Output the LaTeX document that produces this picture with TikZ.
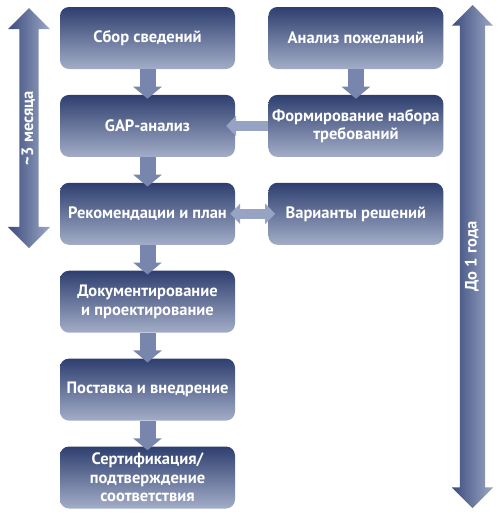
\documentclass[tikz,border=0pt]{standalone}
\usepackage{fontspec}
\setmainfont{PT Sans}
\usepackage{xcolor}
\usepackage{tikz}
\usetikzlibrary{arrows.meta,positioning,shapes.arrows}
\definecolor{boxtop}{HTML}{2E3F6F}
\definecolor{boxbot}{HTML}{A3ADC8}
\definecolor{arrmid}{HTML}{7886AD}
\definecolor{arrlight}{HTML}{97A3C2}
\definecolor{spandark}{HTML}{3B4C7E}
\definecolor{spanlight}{HTML}{9CA8C4}
\tikzstyle{stage}=[rectangle, rounded corners=9pt, top color=boxtop, bottom color=boxbot,
  minimum width=175pt, minimum height=62pt, align=center, inner sep=1pt,
  text=white, font=\bfseries\fontsize{16.5}{18.5}\selectfont]
\tikzstyle{span}=[double arrow, rotate=90, left color=spandark, right color=spanlight,
  text=white, font=\bfseries\fontsize{16.5}{18}\selectfont, text height=11.5pt, text depth=3.5pt]
\tikzstyle{fat}=[arrmid, line width=16pt, -{Triangle[width=28pt,length=12pt]}, shorten >=-4pt]
\tikzstyle{side}=[arrlight, line width=10pt, -{Triangle[width=20pt,length=10pt]}]

\begin{document}
\begin{tikzpicture}[node distance=25.5pt and 33pt]
\useasboundingbox (0,0) rectangle (500pt,-520pt);
\node (sbor) [stage] at (147.5pt,-38pt) {Сбор сведений};
\node (gap) [stage, below=of sbor] {GAP-анализ};
\node (plan) [stage, below=of gap] {Рекомендации и план};
\node (doc) [stage, below=of plan] {Документирование\\и проектирование};
\node (impl) [stage, below=of doc] {Поставка и внедрение};
\node (cert) [stage, below=of impl] {Сертификация/\\подтверждение\\соответствия};
\node (wish) [stage, right=of sbor] {Анализ пожеланий};
\node (req) [stage, right=of gap] {Формирование набора\\требований};
\node (opt) [stage, right=of plan] {Варианты решений};

% шкалы сроков
\node (m3) [span, minimum height=240pt, inner ysep=2pt, double arrow head extend=11.5pt] at (29pt,-128pt) {\textasciitilde3 месяца};
\node (y1) [span, minimum height=503pt, inner ysep=5pt, double arrow head extend=8pt] at (472.5pt,-256.5pt) {До 1 года};

\draw[fat] (sbor)--(gap);
\draw[fat] (gap)--(plan);
\draw[fat] (plan)--(doc);
\draw[fat] (doc)--(impl);
\draw[fat] (impl)--(cert);
\draw[fat] (wish)--(req);
\draw[side, shorten >=-9pt] (req)--(gap);
\draw[side, {Triangle[width=20pt,length=10pt]}-{Triangle[width=20pt,length=10pt]}, shorten <=-7pt, shorten >=-5pt] (opt)--(plan);
\end{tikzpicture}
\end{document}
